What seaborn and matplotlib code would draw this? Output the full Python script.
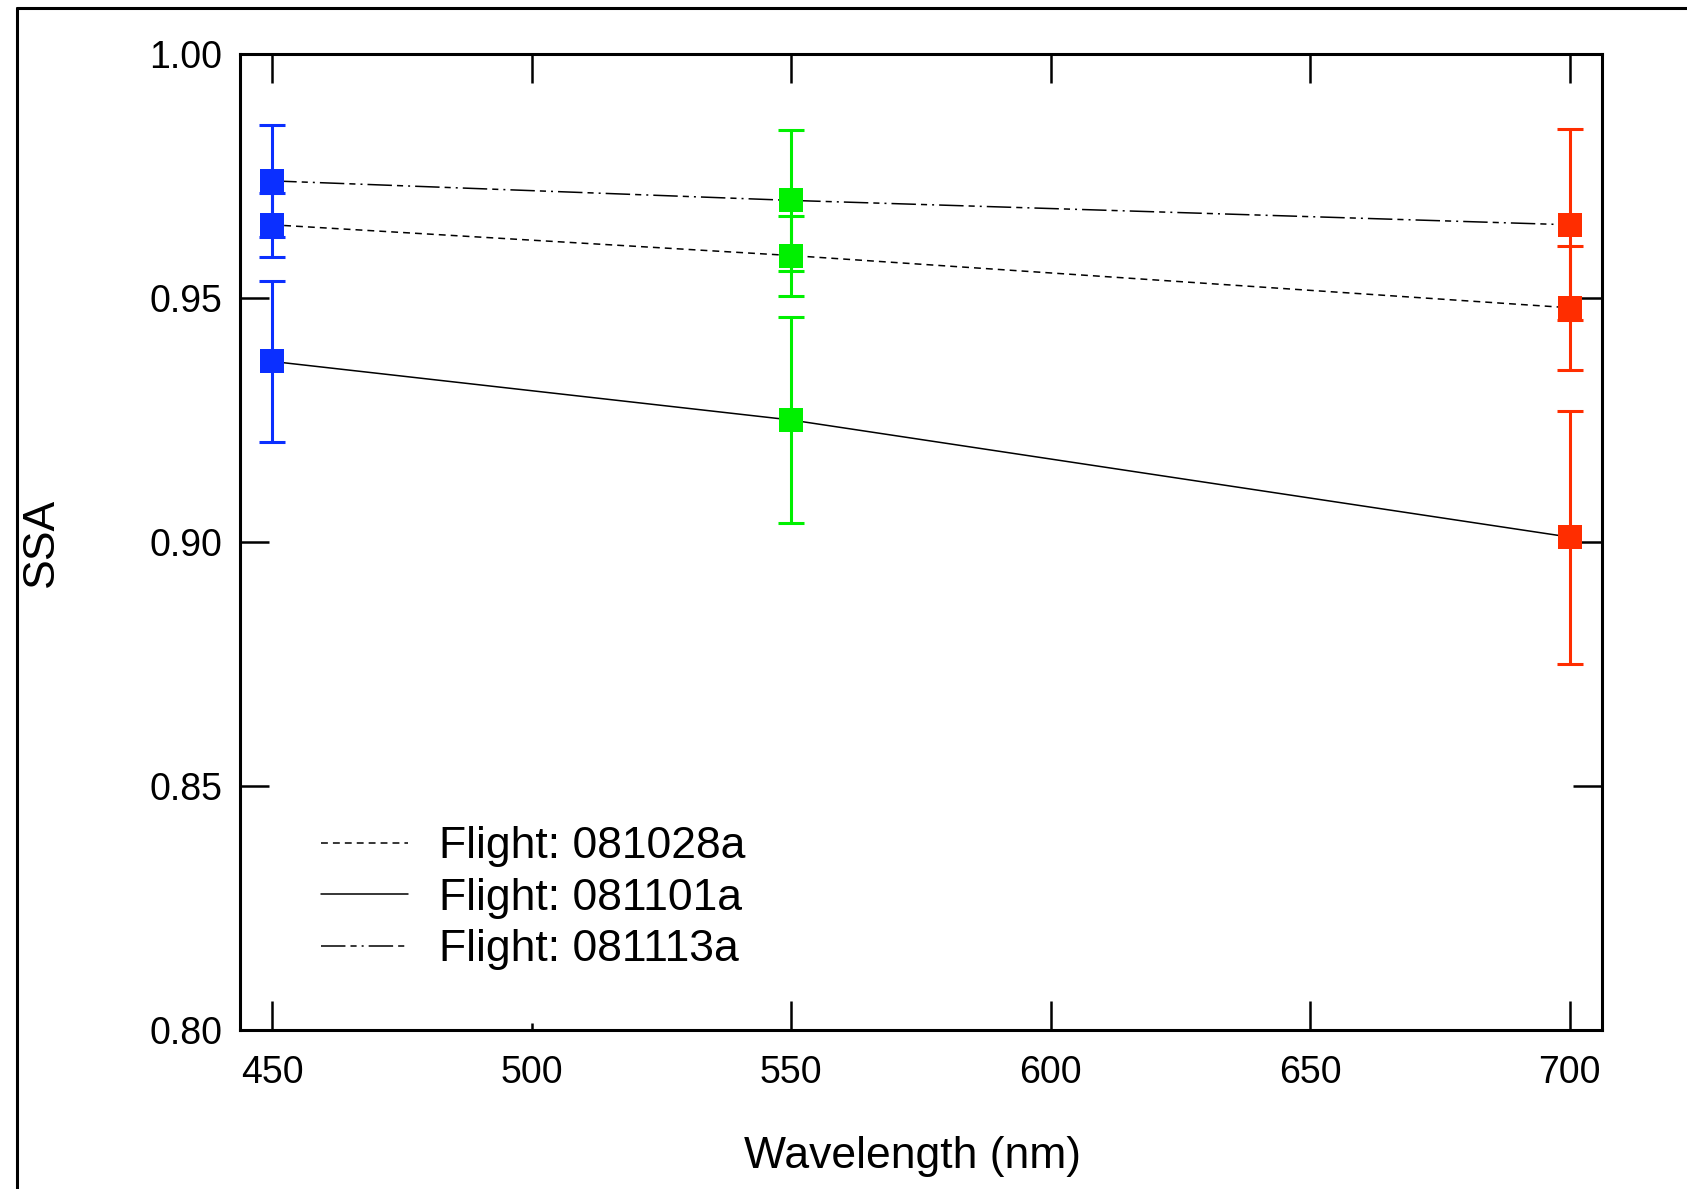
import numpy as np
import pandas as pd
import matplotlib
matplotlib.use("Agg")
import matplotlib.pyplot as plt
from matplotlib.lines import Line2D
import seaborn as sns

# ---- data ----
wavelengths = [450, 550, 700]
flights = ["Flight: 081028a", "Flight: 081101a", "Flight: 081113a"]
ssa_081028a = [0.965, 0.9587, 0.948]
err_081028a = [0.0065, 0.0082, 0.0127]
ssa_081101a = [0.937, 0.925, 0.901]
err_081101a = [0.0165, 0.0212, 0.0259]
ssa_081113a = [0.974, 0.970, 0.965]
err_081113a = [0.0115, 0.0145, 0.0196]
wl_colors = ["#0B2FFF", "#00F000", "#FF2D00"]
x_ticks = [450, 500, 550, 600, 650, 700]
y_ticks = [0.80, 0.85, 0.90, 0.95, 1.00]

sns.set_style("white")
plt.rcParams["font.family"] = ["Liberation Sans", "DejaVu Sans"]
plt.rcParams["text.color"] = "black"
plt.rcParams["axes.labelcolor"] = "black"

rows = []
for name, vals, errs in [(flights[0], ssa_081028a, err_081028a),
                         (flights[1], ssa_081101a, err_081101a),
                         (flights[2], ssa_081113a, err_081113a)]:
    for w, v, e in zip(wavelengths, vals, errs):
        rows.append({"wl": w, "ssa": v, "err": e, "flight": name})
df = pd.DataFrame(rows)

fig = plt.figure(figsize=(16.87, 11.89), dpi=100)
ax_bottom = 1 - 1030 / 1189
ax_top = 1 - 54 / 1189
ax = fig.add_axes([0.1423, ax_bottom, 0.9496 - 0.1423, ax_top - ax_bottom])

dashes = {flights[0]: (4.5, 3.3), flights[1]: "", flights[2]: (16, 3.3, 4, 3.3, 1.3, 3.3)}
sns.lineplot(data=df, x="wl", y="ssa", style="flight", dashes=dashes, color="black",
             linewidth=1.1, ax=ax, legend=True, zorder=2, estimator=None, sort=True)

# error bars coloured by wavelength
for i, w in enumerate(wavelengths):
    sub = df[df["wl"] == w]
    ax.errorbar(sub["wl"], sub["ssa"], yerr=sub["err"], fmt="none", ecolor=wl_colors[i],
                elinewidth=2.2, capsize=9.4, capthick=2.2, zorder=3)

palette = {w: c for w, c in zip(wavelengths, wl_colors)}
sns.scatterplot(data=df, x="wl", y="ssa", hue="wl", palette=palette, marker="s", s=300,
                linewidth=0, ax=ax, legend=False, zorder=4)

ax.set_xlim(443.8, 706.2)
ax.set_ylim(0.80, 1.00)
ax.set_xticks(x_ticks)
ax.set_yticks(y_ticks)
ax.set_xticklabels([str(t) for t in x_ticks])
ax.set_yticklabels([f"{t:.2f}" for t in y_ticks])
ax.tick_params(axis="both", which="major", direction="in", length=21, width=1.8,
               bottom=True, left=True, top=True, right=True,
               labelsize=27, colors="black", labelcolor="black")
ax.tick_params(axis="x", pad=18)
ax.tick_params(axis="y", pad=13)
for sp in ax.spines.values():
    sp.set_linewidth(2.2)
    sp.set_color("black")

ax.set_xlabel("Wavelength (nm)", fontsize=32)
ax.set_ylabel("SSA", fontsize=32)
ax.xaxis.set_label_coords(0.494, -0.109)
ax.yaxis.set_label_coords(-0.131, 0.5)

handles, labels = ax.get_legend_handles_labels()
for h in handles:
    h.set_linewidth(1.1)
ax.legend(handles, labels, loc="center left", bbox_to_anchor=(0.0595, 0.135),
          frameon=False, fontsize=32, handlelength=1.95, handletextpad=0.7,
          labelspacing=0.24, borderpad=0, borderaxespad=0)

# short bottom tick at 500 as in the original
ax.xaxis.get_major_ticks()[1].tick1line.set_markersize(5)

# outer frame (cropped figure border)
fx = 17 / 1687
fy = 1 - 8 / 1189
fig.add_artist(Line2D([fx, fx], [0, fy], transform=fig.transFigure, color="black", lw=2.2))
fig.add_artist(Line2D([fx, 1], [fy, fy], transform=fig.transFigure, color="black", lw=2.2))

fig.savefig("out.png", dpi=100)
